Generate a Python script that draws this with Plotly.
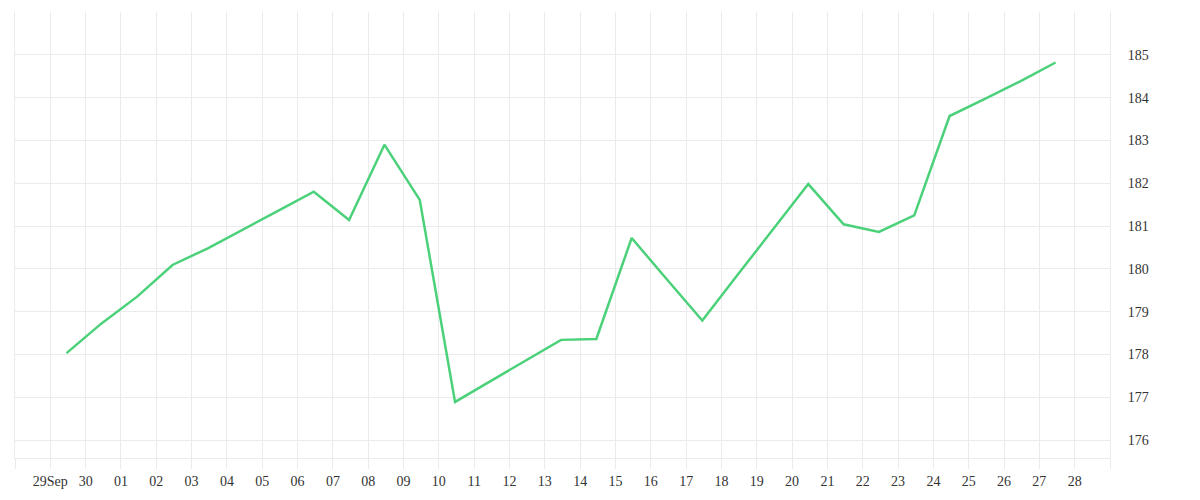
import pandas as pd
import plotly.graph_objects as go

# Daily observations (one per day, late morning), 29 Sep -> 27 Oct
dates = pd.date_range("2023-09-29 11:00", "2023-10-27 11:00", freq="D")
values = [178.03, 178.73, 179.35, 180.09, 180.48, 180.93, 181.36, 181.80,
          181.14, 182.90, 181.61, 176.89, 177.37, 177.85, 178.34, 178.36,
          180.72, 179.75, 178.79, 179.86, 180.91, 181.98, 181.04, 180.86,
          181.25, 183.57, 183.97, 184.38, 184.82]

tick_dates = pd.date_range("2023-09-28", "2023-10-29", freq="D")
tick_text = [""] + ["29Sep", "30"] + [f"{d:02d}" for d in range(1, 29)] + [""]
y_ticks = [176, 177, 178, 179, 180, 181, 182, 183, 184, 185]

grid = "#ebebeb"
font = dict(family="Liberation Serif, DejaVu Serif, serif", size=14, color="#333333")

fig = go.Figure(go.Scatter(
    x=dates, y=values, mode="lines",
    line=dict(color="#4cd17b", width=2.5),
    hoverinfo="x+y",
))

fig.update_layout(
    width=1200, height=500,
    margin=dict(l=7, r=98, t=4, b=50),
    paper_bgcolor="white", plot_bgcolor="white",
    showlegend=False,
    font=font,
    xaxis=dict(
        range=["2023-09-28", "2023-10-29"],
        tickmode="array", tickvals=tick_dates, ticktext=tick_text,
        showgrid=True, gridcolor=grid, gridwidth=1,
        showline=True, linecolor=grid, linewidth=1,
        ticks="outside", ticklen=10, tickcolor=grid, tickwidth=1,
        zeroline=False, tickfont=font,
    ),
    yaxis=dict(
        side="right",
        range=[175.58, 186.0],
        tickmode="array", tickvals=y_ticks,
        showgrid=True, gridcolor=grid, gridwidth=1,
        showline=True, mirror=True, linecolor=grid, linewidth=1,
        ticks="", ticklabelstandoff=14,
        zeroline=False, tickfont=font,
    ),
)

fig.write_html("out.html")
